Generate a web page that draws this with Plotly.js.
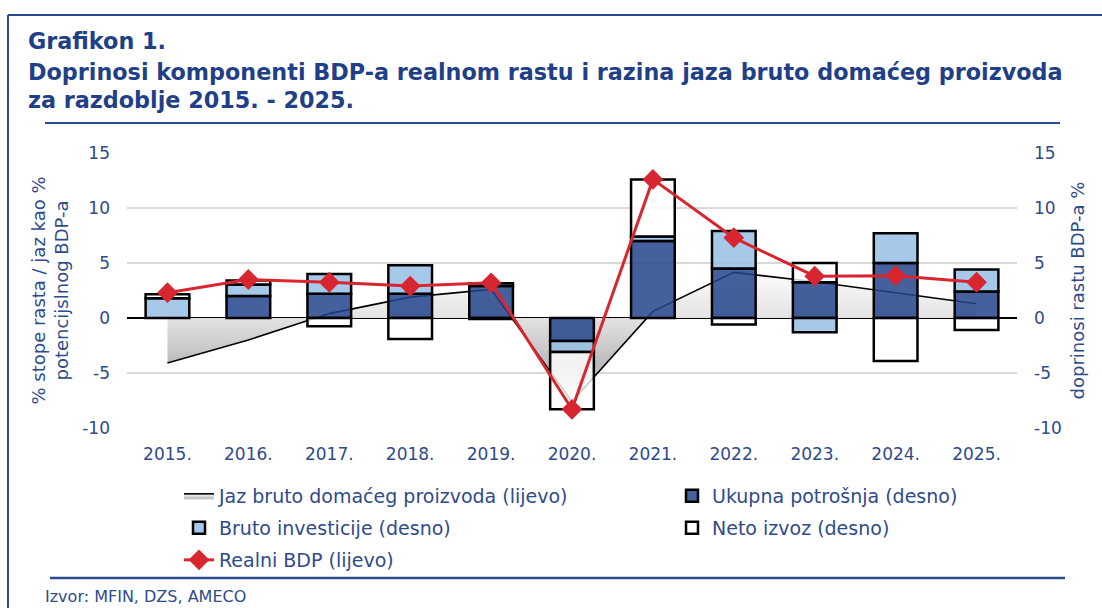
<!DOCTYPE html>
<html>
<head>
<meta charset="utf-8">
<script src="https://cdn.plot.ly/plotly-3.0.1.min.js"></script>
<style>html,body{margin:0;padding:0;background:#fff;}#chart{width:1102px;height:608px;}</style>
</head>
<body>
<div id="chart"></div>
<script>
const years = ["2015.","2016.","2017.","2018.","2019.","2020.","2021.","2022.","2023.","2024.","2025."];
const outputGap = [-4.1, -2.0, 0.4, 1.9, 2.6, -7.6, 0.6, 4.15, 3.3, 2.3, 1.3];
const consumption = [null, 2.0, 2.2, 2.2, 2.9, -2.1, 7.0, 4.5, 3.25, 5.0, 2.4];
const investment = [1.8, 1.05, 1.8, 2.6, 0.25, -1.0, 0.4, 3.4, -1.3, 2.7, 2.0];
const netExports = [0.35, 0.35, -0.75, -1.9, -0.1, -5.2, 5.2, -0.6, 1.75, -3.9, -1.1];
const realGDP = [2.3, 3.5, 3.25, 2.9, 3.2, -8.3, 12.6, 7.3, 3.8, 3.85, 3.25];
const yTickVals = [-10, -5, 0, 5, 10, 15];
const yTickLabels = ["-10", "-5", "0", "5", "10", "15"];

const NAVY = "#1f3f88";
const TXT = "#2e4b8b";
const FONT = "DejaVu Sans, sans-serif";

const traces = [
  {
    type: "scatter", mode: "lines", name: "Jaz bruto domaćeg proizvoda (lijevo)",
    x: years, y: outputGap, xaxis: "x", yaxis: "y", legend: "legend", legendgroup: "g1",
    line: {color: "#000000", width: 1.6},
    fill: "tozeroy",
    fillgradient: {type: "vertical", colorscale: [[0, "#f2f2f2"], [0.28, "#b9b9b9"], [0.5, "#d3d3d3"], [0.66, "#e4e4e4"], [1, "#fbfbfb"]]},
    fillcolor: "#d9d9d9"
  },
  {
    type: "bar", name: "Ukupna potrošnja (desno)", x: years, y: consumption, yaxis: "y2",
    legend: "legend2", legendgroup: "g2",
    width: 0.54, marker: {color: "rgba(37,69,140,0.85)", line: {color: "#000", width: 2.5}}
  },
  {
    type: "bar", name: "Bruto investicije (desno)", x: years, y: investment, yaxis: "y2",
    legend: "legend", legendgroup: "g3",
    width: 0.54, marker: {color: "rgba(150,192,230,0.85)", line: {color: "#000", width: 2.5}}
  },
  {
    type: "bar", name: "Neto izvoz (desno)", x: years, y: netExports, yaxis: "y2",
    legend: "legend2", legendgroup: "g4",
    width: 0.54, marker: {color: "rgba(255,255,255,0.8)", line: {color: "#000", width: 2.5}}
  },
  {
    type: "scatter", mode: "lines+markers", name: "Realni BDP (lijevo)",
    x: years, y: realGDP, yaxis: "y3", legend: "legend", legendgroup: "g5",
    line: {color: "#d7262f", width: 3},
    marker: {symbol: "diamond", size: 16, color: "#d7262f"}
  }
];

const yRange = [-10, 15];
const legendBase = {
  orientation: "v", yanchor: "top", xanchor: "left",
  font: {family: FONT, size: 19, color: TXT},
  traceorder: "grouped", tracegroupgap: 4.3,
  bgcolor: "rgba(0,0,0,0)", borderwidth: 0
};
const layout = {
  width: 1102, height: 608,
  paper_bgcolor: "#ffffff", plot_bgcolor: "rgba(0,0,0,0)",
  margin: {l: 127, r: 85, t: 153, b: 180, autoexpand: false},
  barmode: "relative",
  font: {family: FONT, color: TXT, size: 17},
  showlegend: true,
  legend: Object.assign({}, legendBase, {x: 52/890, y: -49/275}),
  legend2: Object.assign({}, legendBase, {x: 545/890, y: -49/275}),
  xaxis: {
    type: "category", showgrid: false, ticks: "", showline: false,
    tickfont: {family: FONT, size: 17, color: TXT}, ticklabelstandoff: 14,
    range: [-0.5, 10.5]
  },
  yaxis: {
    range: yRange, tickmode: "array", tickvals: yTickVals, ticktext: yTickLabels,
    showgrid: true, gridcolor: "#d9d9d9", gridwidth: 1.5,
    zeroline: true, zerolinecolor: "#000", zerolinewidth: 1.3,
    ticks: "", showline: false, ticklabelstandoff: 16,
    tickfont: {family: FONT, size: 17, color: TXT},
    title: {text: "% stope rasta / jaz kao %<br>potencijslnog BDP-a", font: {family: FONT, size: 18, color: TXT}, standoff: 8}
  },
  yaxis2: {
    range: yRange, tickmode: "array", tickvals: yTickVals, ticktext: yTickLabels,
    overlaying: "y", side: "right",
    showgrid: false, zeroline: false, ticks: "", showline: false, ticklabelstandoff: 16,
    tickfont: {family: FONT, size: 17, color: TXT},
    title: {text: "doprinosi rastu BDP-a %", font: {family: FONT, size: 18, color: TXT}, standoff: 10}
  },
  yaxis3: {
    range: yRange, overlaying: "y", visible: false
  },
  shapes: [
    {type: "line", xref: "paper", yref: "paper", x0: -119/890, x1: 975/890, y0: 1 + 138/275, y1: 1 + 138/275, line: {color: "#2a4a92", width: 2}},
    {type: "line", xref: "paper", yref: "paper", x0: -119/890, x1: -119/890, y0: 1 + 138/275, y1: -180/275, line: {color: "#2a4a92", width: 2}},
    {type: "line", xref: "paper", yref: "paper", x0: -82/890, x1: 933/890, y0: 1 + 30/275, y1: 1 + 30/275, line: {color: "#2a4a92", width: 2}},
    {type: "line", xref: "paper", yref: "paper", x0: -77/890, x1: 938/890, y0: -150/275, y1: -150/275, line: {color: "#2a4a92", width: 2.5}}
  ],
  annotations: [
    {xref: "paper", yref: "paper", x: -101/890, y: 1 + 112/275, xanchor: "left", yanchor: "middle", showarrow: false,
     text: "<b>Grafikon 1.</b>", font: {family: FONT, size: 22.3, color: NAVY}},
    {xref: "paper", yref: "paper", x: -101/890, y: 1 + 81/275, xanchor: "left", yanchor: "middle", showarrow: false,
     text: "<b>Doprinosi komponenti BDP-a realnom rastu i razina jaza bruto domaćeg proizvoda</b>", font: {family: FONT, size: 22.3, color: NAVY}},
    {xref: "paper", yref: "paper", x: -101/890, y: 1 + 53/275, xanchor: "left", yanchor: "middle", showarrow: false,
     text: "<b>za razdoblje 2015. - 2025.</b>", font: {family: FONT, size: 22.3, color: NAVY}},
    {xref: "paper", yref: "paper", x: -84/890, y: -168/275, xanchor: "left", yanchor: "middle", showarrow: false,
     text: "Izvor: MFIN, DZS, AMECO", font: {family: FONT, size: 16, color: TXT}}
  ]
};

Plotly.newPlot("chart", traces, layout, {displayModeBar: false, staticPlot: true});
</script>
</body>
</html>
